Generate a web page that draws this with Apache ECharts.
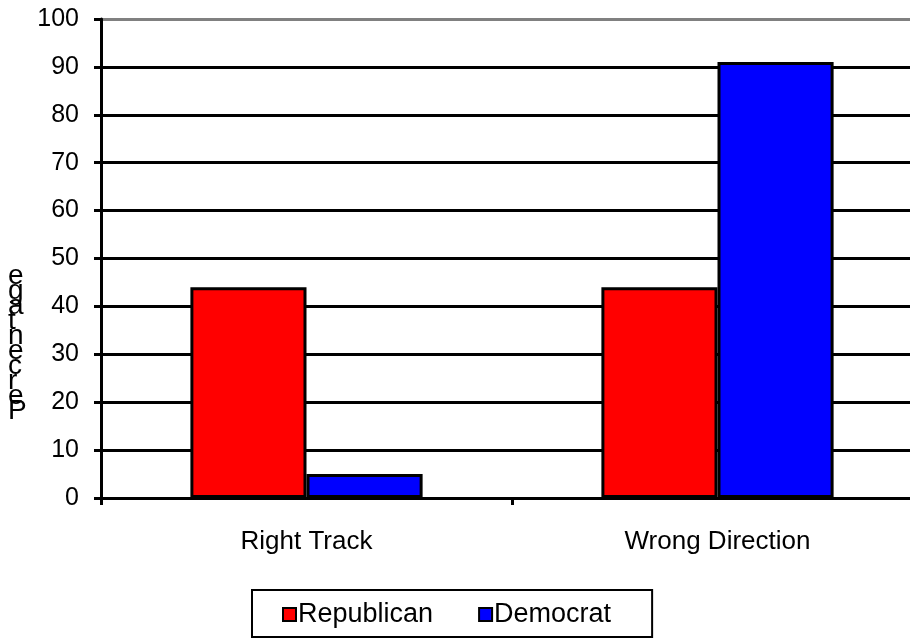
<!DOCTYPE html>
<html>
<head>
<meta charset="utf-8">
<script src="https://cdn.jsdelivr.net/npm/echarts@6/dist/echarts.min.js"></script>
<style>
html,body{margin:0;padding:0;background:#fff;}
#main{width:910px;height:639px;}
</style>
</head>
<body>
<div id="main"></div>
<script>
var categories = ['Right Track', 'Wrong Direction'];
var republican = [44, 44];
var democrat = [5, 91];
var yAxisTitle = 'Percentage';

var chart = echarts.init(document.getElementById('main'), null, {renderer: 'canvas'});
var font = '"Liberation Sans", Arial, sans-serif';
var gridColors = [];
for (var i = 0; i < 10; i++) gridColors.push('#000000');
gridColors.push('#808080');

var option = {
  backgroundColor: '#ffffff',
  animation: false,
  grid: {left: 101, top: 19, width: 822, height: 479, containLabel: false, outerBoundsMode: 'none'},
  legend: {
    left: 252, top: 590,
    data: ['Republican', 'Democrat'],
    itemWidth: 13, itemHeight: 13, itemGap: 45,
    icon: 'rect',
    borderColor: '#000', borderWidth: 2,
    padding: [11, 41, 9, 30],
    textStyle: {fontFamily: font, fontSize: 27, color: '#000', padding: [0, 0, 0, -3]},
    itemStyle: {borderColor: '#000', borderWidth: 2}
  },
  graphic: [{
    type: 'text',
    left: 8, top: 262,
    silent: true,
    style: {
      text: yAxisTitle.split('').reverse().join('\n'),
      font: '28px "Liberation Sans", Arial, sans-serif',
      fontSize: 28,
      lineHeight: 15,
      fill: '#000', align: 'center'
    }
  }],
  xAxis: {
    type: 'category',
    data: categories,
    axisLine: {lineStyle: {color: '#000', width: 3}},
    axisTick: {show: true, length: 7, lineStyle: {color: '#000', width: 3}},
    axisLabel: {fontFamily: font, fontSize: 26, color: '#000', margin: 31}
  },
  yAxis: {
    type: 'value',
    min: 0, max: 100, interval: 10,
    axisLine: {show: true, lineStyle: {color: '#000', width: 3}},
    axisTick: {show: true, length: 7, lineStyle: {color: '#000', width: 3}},
    axisLabel: {fontFamily: font, fontSize: 25, color: '#000', margin: 22},
    splitLine: {show: true, lineStyle: {color: gridColors, width: 3}}
  },
  series: [
    {
      name: 'Republican', type: 'bar', data: republican,
      barGap: '0%', barCategoryGap: '43.5%',
      itemStyle: {color: '#ff0000', borderColor: '#000', borderWidth: 3}
    },
    {
      name: 'Democrat', type: 'bar', data: democrat,
      barGap: '0%', barCategoryGap: '43.5%',
      itemStyle: {color: '#0000ff', borderColor: '#000', borderWidth: 3}
    }
  ]
};
chart.setOption(option);
</script>
</body>
</html>
